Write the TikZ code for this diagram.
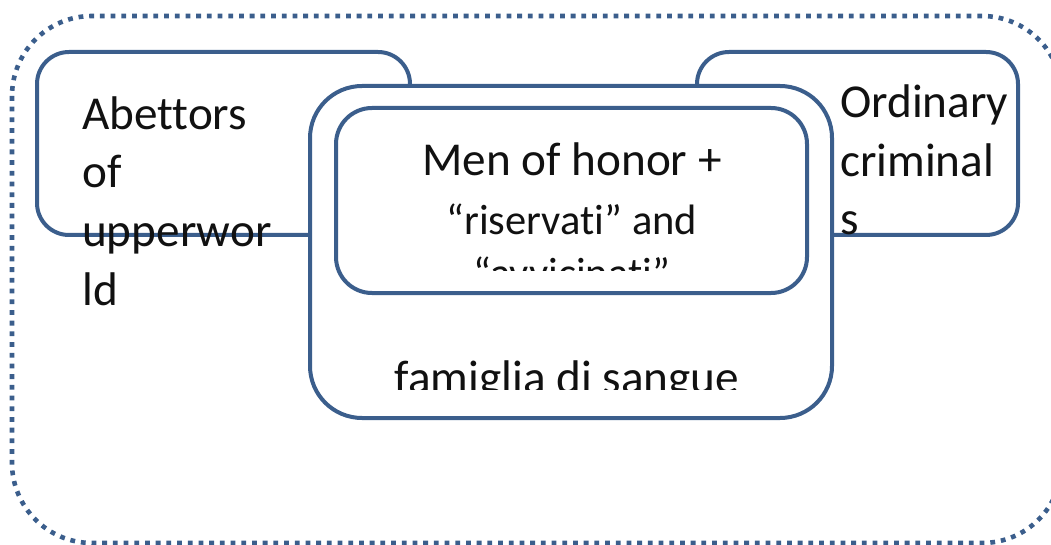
\documentclass[tikz,border=0pt]{standalone}
\usepackage{fontspec}
\setmainfont{Carlito}[Ligatures={NoCommon,NoRequired,NoContextual}]
\definecolor{boxblue}{RGB}{59,94,140}
\definecolor{txt}{RGB}{17,17,17}
\tikzset{
  box/.style={draw=boxblue, line width=4pt, fill=white},
  outerbox/.style={draw=boxblue, line width=4.6pt, dash pattern=on 4.8pt off 5.9pt, rounded corners=80pt},
  bigtxt/.style={inner sep=0pt, text=txt, font=\fontsize{47.2}{58.5}\selectfont},
  smalltxt/.style={inner sep=0pt, text=txt, font=\fontsize{42.5}{52}\selectfont}
}
\begin{document}
\begin{tikzpicture}[x=1pt,y=-1pt]
\useasboundingbox (0,0) rectangle (1051,545);
% outer dotted frame
\draw[outerbox] (12,16) rectangle (1062,543);
% side boxes
\draw[box, rounded corners=32pt] (37,52) rectangle (410,235);
\draw[box, rounded corners=32pt] (697,52) rectangle (1018,235);
% famiglia box
\draw[box, rounded corners=52pt] (310,86) rectangle (832,418);
% inner box
\draw[box, rounded corners=36pt] (336,108) rectangle (807,293);
% left text
\node[bigtxt, anchor=base west] (ab1) at (82,130) {Abettors};
\node[bigtxt, anchor=base west] (ab2) at (82,188) {of};
\node[bigtxt, anchor=base west] (ab3) at (82,247) {upperwor};
\node[bigtxt, anchor=base west] (ab4) at (82,305) {ld};
% right text
\node[bigtxt, anchor=base west] (oc1) at (840,118) {Ordinary};
\node[bigtxt, anchor=base west] (oc2) at (840,177) {criminal};
\node[bigtxt, anchor=base west] (oc3) at (840,235) {s};
% inner text
\node[bigtxt, anchor=base] (mh1) at (572,176) {Men of honor +};
\node[smalltxt, anchor=base] (mh2) at (572,235) {“riservati” and};
\begin{scope}
\clip (336,240) rectangle (807,270);
\node[smalltxt, anchor=base] (mh3) at (572,287) {“avvicinati”};
\end{scope}
% famiglia text
\begin{scope}
\clip (312,300) rectangle (830,389);
\node[bigtxt, anchor=base] (fs) at (567,393) {famiglia di sangue};
\end{scope}
\end{tikzpicture}
\end{document}
